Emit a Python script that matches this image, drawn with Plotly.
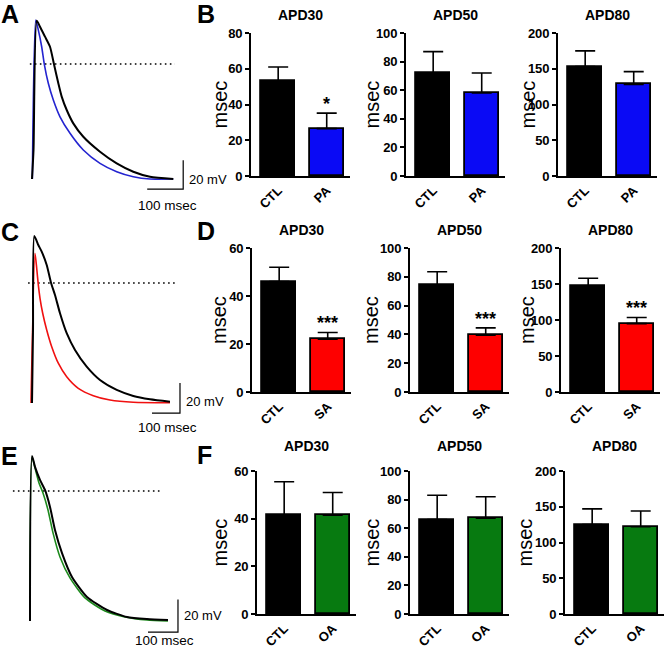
import plotly.graph_objects as go

W, H = 664, 649
FONT = "Arial, Liberation Sans, sans-serif"

BLUE = "#0a0af5"
RED = "#fe0000"
GREEN = "#077a10"

# ---- representative action potentials (time in ms, voltage in mV) ----
A_CTL_T = [0, 4.2, 13.1, 22.2, 36.1, 50, 61.1, 73.1, 82.5, 96.4, 114.7, 142.5, 188.9, 235.3, 281.4, 327.8, 392.5]
A_CTL_V = [-80, -59.8, 30.1, 25.9, 19.0, 12.0, -0.2, -13.4, -22.7, -32.0, -41.3, -50.6, -61.0, -69.1, -74.9, -78.4, -80]
A_PA_T = [1, 10.3, 17.5, 26.9, 34.2, 45.3, 59.2, 77.8, 105.6, 142.5, 188.9, 235.3, 281.4, 327.8, 392.5]
A_PA_V = [-80, 30.6, 23.7, 12.0, -0.2, -13.4, -25.0, -36.7, -48.2, -59.8, -69.1, -74.9, -78.4, -80, -80]

C_CTL_T = [0, 3.6, 8.2, 22.5, 34.6, 52.5, 67.9, 82.1, 100, 123.9, 153.6, 195.3, 242.8, 302.5, 361.7, 421.4, 492.8]
C_CTL_V = [-80, -31.3, 31.3, 25.3, 20.9, 12.0, 0.2, -8.0, -20.2, -33.5, -44.7, -55.8, -64.7, -71.3, -75.3, -77.5, -79.1]
C_SA_T = [-3.6, 10.7, 16.8, 22.5, 28.6, 38.2, 52.5, 70.4, 93.9, 123.9, 165.3, 218.9, 278.5, 361.7, 492.8]
C_SA_V = [-80, 19.8, 9.8, -1.3, -10.2, -20.2, -31.3, -42.5, -53.5, -62.5, -70.2, -75.1, -78.0, -79.5, -79.8]

E_CTL_T = [0, 6.7, 16.7, 33.3, 50, 66.7, 83.3, 106.7, 140, 190, 256.7, 323.3, 390, 460]
E_CTL_V = [-80, 21.5, 14.8, 6.8, 0.6, -9.8, -24.0, -38.2, -52.9, -65.2, -73.2, -77.5, -78.8, -79.4]
E_OA_T = [0, 6.7, 16.7, 30, 43.3, 60, 76.7, 100, 133.3, 183.3, 250, 316.7, 390, 460]
E_OA_V = [-80, 20.9, 14.2, 4.9, -1.2, -11.7, -25.8, -40.6, -53.5, -65.8, -73.8, -77.5, -79.4, -80]

# ---- APD summary (msec, mean and SEM) ----
APD_NAMES = ["APD30", "APD50", "APD80"]
B_GROUPS = ["CTL", "PA"]
B_MEAN = [[53, 26.5], [72, 58], [153, 128]]
B_SEM = [[8, 8.7], [15, 14], [22, 18]]
D_GROUPS = ["CTL", "SA"]
D_MEAN = [[46, 22], [74.5, 39.5], [147, 95]]
D_SEM = [[6, 2.8], [9, 5], [11, 8.5]]
F_GROUPS = ["CTL", "OA"]
F_MEAN = [[41.5, 41.5], [66, 67], [125, 122]]
F_SEM = [[14, 9.5], [17, 15], [22, 22]]


def px(x):
    return x / W


def py(y):
    return 1 - y / H


fig = go.Figure()
layout = {}
annotations = []

# ---------- left column: traces ----------
trace_panels = [
    # (ctl t, v), (drug t, v, colour), box y px, x range, y range, scale-bar corner, dotted span,
    # (mV label raise in mV, msec label drop in px)
    ((A_CTL_T, A_CTL_V), (A_PA_T, A_PA_V, "#2424d0"), (0, 215), [-88.9, 550], [-105.0, 44.5], (420, -87), (-6, 397), (7, 16)),
    ((C_CTL_T, C_CTL_V), (C_SA_T, C_SA_V, "#f01010"), (215, 430), [-114.3, 707.1], [-98, 45.3], (528.5, -86.7), (-14, 521), (7.5, 14)),
    ((E_CTL_T, E_CTL_V), (E_OA_T, E_OA_V, "#1d8a1d"), (430, 649), [-100, 666.7], [-97.2, 37.5], (493.3, -86.8), (-57, 443), (10.5, 8)),
]
letter_pos = {"A": (10, 14), "B": (206, 14), "C": (10, 232), "D": (206, 231), "E": (9, 456), "F": (204, 455)}

ax = 0
for ctl, drug, (y0, y1), xr, yr, (sx, sy), (d0, d1), (mv_up, ms_down) in trace_panels:
    ax += 1
    xa, ya = f"x{ax}", f"y{ax}"
    layout[f"xaxis{ax}"] = dict(domain=[px(0), px(230)], range=xr, visible=False, anchor=ya,
                                automargin=False, fixedrange=True)
    layout[f"yaxis{ax}"] = dict(domain=[py(y1), py(y0)], range=yr, visible=False, anchor=xa,
                                automargin=False, fixedrange=True)
    fig.add_trace(go.Scatter(x=[d0, d1], y=[0, 0], mode="lines", xaxis=xa, yaxis=ya,
                             line=dict(color="black", width=1.6, dash="1.6px,3.4px"),
                             hoverinfo="skip", showlegend=False))
    fig.add_trace(go.Scatter(x=drug[0], y=drug[1], mode="lines", xaxis=xa, yaxis=ya,
                             line=dict(color=drug[2], width=1.6, shape="spline", smoothing=0.6),
                             showlegend=False))
    fig.add_trace(go.Scatter(x=ctl[0], y=ctl[1], mode="lines", xaxis=xa, yaxis=ya,
                             line=dict(color="black", width=2, shape="spline", smoothing=0.6),
                             showlegend=False))
    # scale bars: 100 msec, 20 mV
    fig.add_trace(go.Scatter(x=[sx, sx, sx - 100], y=[sy + 20, sy, sy], mode="lines", xaxis=xa, yaxis=ya,
                             line=dict(color="black", width=1.2), hoverinfo="skip", showlegend=False))
    annotations.append(dict(x=sx, y=sy + mv_up, xref=xa, yref=ya, text="20 mV", showarrow=False,
                            xanchor="left", yanchor="middle", xshift=4,
                            font=dict(size=13, color="black", family=FONT)))
    annotations.append(dict(x=sx - 45, y=sy, xref=xa, yref=ya, text="100 msec", showarrow=False,
                            xanchor="center", yanchor="middle", yshift=-ms_down,
                            font=dict(size=13.5, color="black", family=FONT)))

# ---------- right column: APD bar charts ----------
bar_rows = [
    (B_GROUPS, B_MEAN, B_SEM, BLUE, (33, 176), [251, 406, 558], 15, [219, 371, 527], [[0, 80, 20], [0, 100, 20], [0, 200, 50]], [["", "*"], ["", ""], ["", ""]]),
    (D_GROUPS, D_MEAN, D_SEM, RED, (248, 392), [252, 410, 561], 230, [219, 371, 527], [[0, 60, 20], [0, 100, 20], [0, 200, 50]], [["", "***"], ["", "***"], ["", "***"]]),
    (F_GROUPS, F_MEAN, F_SEM, GREEN, (471, 614), [257, 410, 565], 446, [219, 371, 524], [[0, 60, 20], [0, 100, 20], [0, 200, 50]], [["", ""], ["", ""], ["", ""]]),
]
CHART_W = 99

for groups, means, sems, colour, (top, bottom), lefts, title_y, msec_x, yticks, stars in bar_rows:
    for i, name in enumerate(APD_NAMES):
        ax += 1
        xa, ya = f"x{ax}", f"y{ax}"
        lo, hi, step = yticks[i]
        left = lefts[i]
        layout[f"xaxis{ax}"] = dict(
            domain=[px(left), px(left + CHART_W)], range=[-0.56, 1.48], anchor=ya, automargin=False,
            showline=True, linecolor="black", linewidth=1.6, ticks="", showgrid=False, zeroline=False,
            tickangle=-45, tickfont=dict(size=13, color="black", family=FONT, weight="bold"),
            fixedrange=True)
        layout[f"yaxis{ax}"] = dict(
            domain=[py(bottom), py(top)], range=[lo, hi], anchor=xa, automargin=False,
            tickmode="array", tickvals=list(range(lo, hi + 1, step)),
            showline=True, linecolor="black", linewidth=1.6, ticks="outside", ticklen=4,
            tickwidth=1.6, tickcolor="black", showgrid=False, zeroline=False,
            tickfont=dict(size=13, color="black", family=FONT, weight="bold"), fixedrange=True)
        fig.add_trace(go.Bar(
            x=groups, y=means[i], xaxis=xa, yaxis=ya, width=0.7,
            marker=dict(color=["black", colour], line=dict(color="black", width=1.8)),
            error_y=dict(type="data", array=sems[i], arrayminus=[0, 0], symmetric=False,
                         color="black", thickness=1.6, width=10),
            showlegend=False))
        cx = left + CHART_W / 2
        annotations.append(dict(x=px(cx), y=py(title_y), xref="paper", yref="paper", text=name,
                                xanchor="center", yanchor="middle", showarrow=False,
                                font=dict(size=14, color="black", family=FONT, weight="bold")))
        annotations.append(dict(x=px(msec_x[i]), y=py((top + bottom) / 2), xref="paper", yref="paper",
                                text="msec", textangle=-90, xanchor="center", yanchor="middle",
                                showarrow=False, font=dict(size=20, color="black", family=FONT)))
        for g, s, m, e in zip(groups, stars[i], means[i], sems[i]):
            if s:
                annotations.append(dict(x=g, y=m + e, xref=xa, yref=ya, text=s, showarrow=False,
                                        xanchor="center", yanchor="bottom", yshift=-3,
                                        font=dict(size=18, color="black", family=FONT, weight="bold")))

for letter, (lx, ly) in letter_pos.items():
    annotations.append(dict(x=px(lx), y=py(ly), xref="paper", yref="paper", text=letter, showarrow=False,
                            xanchor="center", yanchor="middle",
                            font=dict(size=25, color="black", family=FONT, weight="bold")))

fig.update_layout(
    template="none",
    width=W, height=H, autosize=False,
    margin=dict(l=0, r=0, t=0, b=0, pad=0),
    paper_bgcolor="white", plot_bgcolor="rgba(0,0,0,0)",
    font=dict(family=FONT, color="black"),
    bargap=0, annotations=annotations,
    **layout,
)

# the page body has a default 8px margin; drop it so the figure fills the window exactly
fig.write_html("out.html", config={"displayModeBar": False},
               post_script="document.body.style.margin='0';")
